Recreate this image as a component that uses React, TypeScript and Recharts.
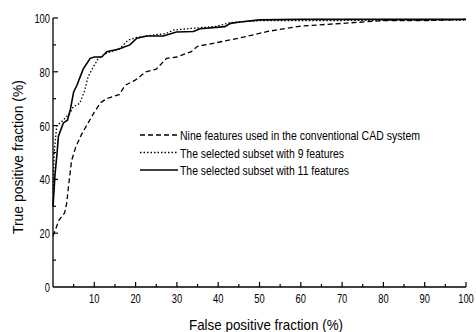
import React from "react";
import { LineChart, Line, XAxis, YAxis, Customized } from "recharts";

const conventional = [
  [0, 19], [0.5, 21], [1.5, 25], [2.8, 27.5], [3.3, 31], [3.8, 38], [4.5, 47],
  [5.5, 52], [7, 57], [8.5, 61], [10, 65], [11.5, 68.5], [13, 70], [16, 71.5],
  [17.5, 75], [20, 77], [22.5, 80], [25, 81], [27.5, 85], [30, 85.5],
  [33.5, 87.5], [35, 89.5], [38.5, 90.5], [45, 92.5], [52, 95], [60, 97],
  [70, 98], [80, 99], [90, 99], [100, 99.5]
].map(([fpf, tpf]) => ({ fpf, tpf }));

const subset9 = [
  [0, 35], [0.3, 50], [0.9, 60], [2.1, 61.5], [4.1, 64.6], [4.9, 67],
  [6.5, 68.3], [7.7, 73.2], [8.5, 78.2], [9.8, 81.9], [11, 85], [13, 86.9],
  [16.2, 88.7], [18.2, 91.8], [20.3, 92.8], [27.5, 94.3], [29.1, 95.5],
  [33.2, 96.1], [39.6, 96.9], [42.9, 98.3], [50, 99], [100, 99.2]
].map(([fpf, tpf]) => ({ fpf, tpf }));

const subset11 = [
  [0, 30], [0.5, 42], [1, 50], [1.3, 56], [2.5, 61], [3.5, 62], [4.2, 66],
  [5, 72.5], [5.8, 75], [7.3, 81], [9, 85], [10, 85.5], [11.8, 85.5],
  [13, 87.5], [16, 88.5], [18.6, 90], [20.3, 92.5], [22.7, 93.3], [26.7, 93.3],
  [29.9, 94.8], [34, 95], [35.6, 96], [41.6, 96.8], [43, 98], [45.3, 98.5],
  [50, 99.3], [60, 99.5], [100, 99.5]
].map(([fpf, tpf]) => ({ fpf, tpf }));

const xTicks = [5, 10, 15, 20, 25, 30, 35, 40, 45, 50, 55, 60, 65, 70, 75, 80, 85, 90, 95, 100];
const yTicks = [0, 10, 20, 30, 40, 50, 60, 70, 80, 90, 100];

const seriesNames = [
  "Nine features used in the conventional CAD system",
  "The selected subset with 9 features",
  "The selected subset with 11 features"
];

const FONT = "'Liberation Sans', Arial, sans-serif";
const DASHES = ["5 3", "1.5 2", undefined];
const LEGEND_WIDTHS = [240, 164, 169];

const digitsWidth = (v: number) => String(v).length * 5.2;

const XTick = ({ x, y, payload }: any) => {
  const v = payload.value;
  const major = v % 10 === 0;
  return (
    <g>
      <line x1={x} x2={x} y1={y} y2={y - (major ? 5 : 3)} stroke="#000" strokeWidth={1.2} />
      {major && (
        <text x={x} y={y + 16} textAnchor="middle" fontSize={13} fontFamily={FONT} fill="#000"
          textLength={digitsWidth(v)} lengthAdjust="spacingAndGlyphs">
          {v}
        </text>
      )}
    </g>
  );
};

const YTick = ({ x, y, payload }: any) => {
  const v = payload.value;
  const major = v % 20 === 0;
  return (
    <g>
      {v > 0 && <line x1={x} x2={x + (major ? 5 : 3)} y1={y} y2={y} stroke="#000" strokeWidth={1.2} />}
      {major && (
        <text x={x - 3} y={y + 5} textAnchor="end" fontSize={13} fontFamily={FONT} fill="#000"
          textLength={digitsWidth(v)} lengthAdjust="spacingAndGlyphs">
          {v}
        </text>
      )}
    </g>
  );
};

const Overlay = () => (
  <g fontFamily={FONT} fill="#000">
    {seriesNames.map((name, i) => (
      <g key={name}>
        <line x1={140} x2={178} y1={135 + i * 17.5} y2={135 + i * 17.5} stroke="#000"
          strokeWidth={i === 2 ? 1.6 : 1.3} strokeDasharray={DASHES[i]} />
        <text x={180} y={140 + i * 17.5} fontSize={13}
          textLength={LEGEND_WIDTHS[i]} lengthAdjust="spacingAndGlyphs">{name}</text>
      </g>
    ))}
    <text x={266} y={330} textAnchor="middle" fontSize={15}
      textLength={154} lengthAdjust="spacingAndGlyphs">False positive fraction (%)</text>
    <text x={23} y={157} textAnchor="middle" fontSize={15} transform="rotate(-90 23 157)"
      textLength={154} lengthAdjust="spacingAndGlyphs">True positive fraction (%)</text>
  </g>
);

export default function App() {
  return (
    <div style={{ position: "absolute", left: 0, top: 0, background: "#fff" }}>
      <LineChart width={476} height={332} margin={{ top: 18, right: 10, left: 0, bottom: 0 }}>
        <XAxis type="number" dataKey="fpf" domain={[0, 100]} ticks={xTicks} interval={0}
          allowDuplicatedCategory={false} height={45} tickSize={0} tickMargin={0}
          tickLine={false} tick={<XTick />} axisLine={{ stroke: "#000", strokeWidth: 1.3 }} />
        <YAxis type="number" domain={[0, 100]} ticks={yTicks} interval={0} width={53}
          tickSize={0} tickMargin={0} tickLine={false} tick={<YTick />}
          axisLine={{ stroke: "#000", strokeWidth: 1.3 }} />
        <Line data={conventional} dataKey="tpf" name={seriesNames[0]} type="linear" stroke="#000"
          strokeWidth={1.3} strokeDasharray="5 3" dot={false} isAnimationActive={false} />
        <Line data={subset9} dataKey="tpf" name={seriesNames[1]} type="linear" stroke="#000"
          strokeWidth={1.3} strokeDasharray="1.5 2" dot={false} isAnimationActive={false} />
        <Line data={subset11} dataKey="tpf" name={seriesNames[2]} type="linear" stroke="#000"
          strokeWidth={1.6} dot={false} isAnimationActive={false} />
        <Customized component={Overlay} />
      </LineChart>
    </div>
  );
}
